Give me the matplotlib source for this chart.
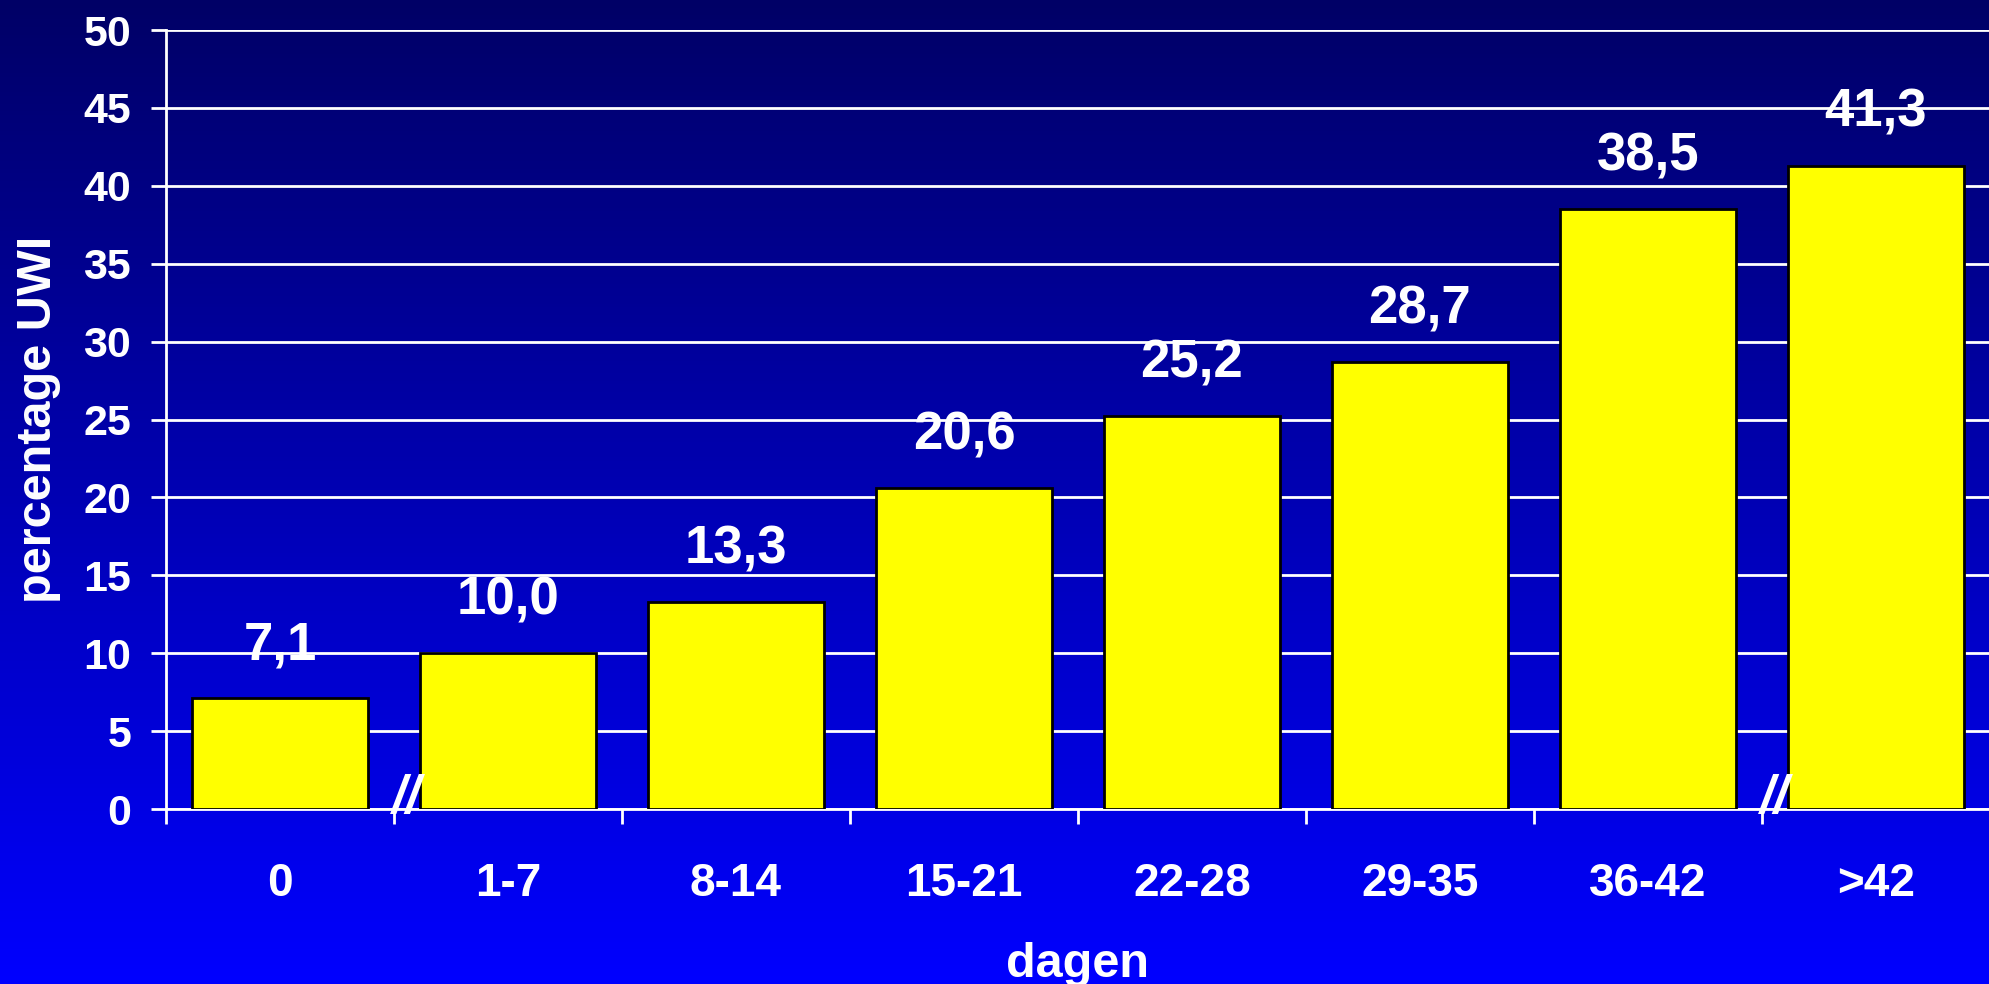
import matplotlib
matplotlib.use("Agg")
import matplotlib.pyplot as plt
import numpy as np
from matplotlib.colors import LinearSegmentedColormap

categories = ["0", "1-7", "8-14", "15-21", "22-28", "29-35", "36-42", ">42"]
values = [7.1, 10.0, 13.3, 20.6, 25.2, 28.7, 38.5, 41.3]
value_labels = ["7,1", "10,0", "13,3", "20,6", "25,2", "28,7", "38,5", "41,3"]
yticks = [0, 5, 10, 15, 20, 25, 30, 35, 40, 45, 50]
breaks_after = [0, 6]   # "//" na deze categorieën

plt.rcParams["font.family"] = ["Liberation Sans", "DejaVu Sans"]
plt.rcParams["font.weight"] = "bold"

fig = plt.figure(figsize=(19.9, 9.84), dpi=100)

# achtergrond: verloop donkerblauw -> felblauw
bg = fig.add_axes([0, 0, 1, 1], zorder=0)
grad = np.linspace(0, 1, 256).reshape(-1, 1)
cmap = LinearSegmentedColormap.from_list("bg", ["#000066", "#0000FF"])
bg.imshow(grad, aspect="auto", cmap=cmap, extent=[0, 1, 0, 1], origin="upper")
bg.axis("off")

ax = fig.add_axes([0.0834, 0.1778, 0.9166, 0.7917], zorder=1)
ax.patch.set_alpha(0)

x = np.arange(len(categories))
ax.bar(x, values, width=0.77, color="#FFFF00", edgecolor="black", linewidth=2, zorder=3)

for xi, v, lab in zip(x, values, value_labels):
    ax.annotate(lab, (xi, v), xytext=(0, 20), textcoords="offset points",
                ha="center", va="bottom", color="white", fontsize=38, fontweight="bold")

ax.set_xlim(-0.5, len(categories) - 0.5)
ax.set_ylim(0, 50)
ax.set_yticks(yticks)
ax.yaxis.grid(True, color="white", linewidth=2, zorder=0)
ax.set_axisbelow(True)

ax.set_xticks(x)
ax.set_xticklabels(categories)
ax.tick_params(axis="x", length=0, pad=38, labelsize=33, labelcolor="white")
ax.set_xticks(np.arange(len(categories) + 1) - 0.5, minor=True)
ax.tick_params(axis="x", which="minor", length=11, width=2, color="white", direction="out")
ax.tick_params(axis="y", length=11, width=2, color="white", labelsize=31,
               labelcolor="white", pad=14)

for s in ["top", "right"]:
    ax.spines[s].set_visible(False)
for s in ["left", "bottom"]:
    ax.spines[s].set_color("white")
    ax.spines[s].set_linewidth(2)

for b in breaks_after:
    ax.annotate("//", (b + 0.5, 0), xytext=(9, 7), textcoords="offset points",
                ha="center", va="center", color="white", fontsize=38,
                fontweight="bold", fontstyle="italic", zorder=5, annotation_clip=False)

ax.set_xlabel("dagen", color="white", fontsize=35, fontweight="bold", labelpad=26)
ax.set_ylabel("percentage UWI", color="white", fontsize=35, fontweight="bold", labelpad=16)

fig.savefig("out.png", dpi=100)
